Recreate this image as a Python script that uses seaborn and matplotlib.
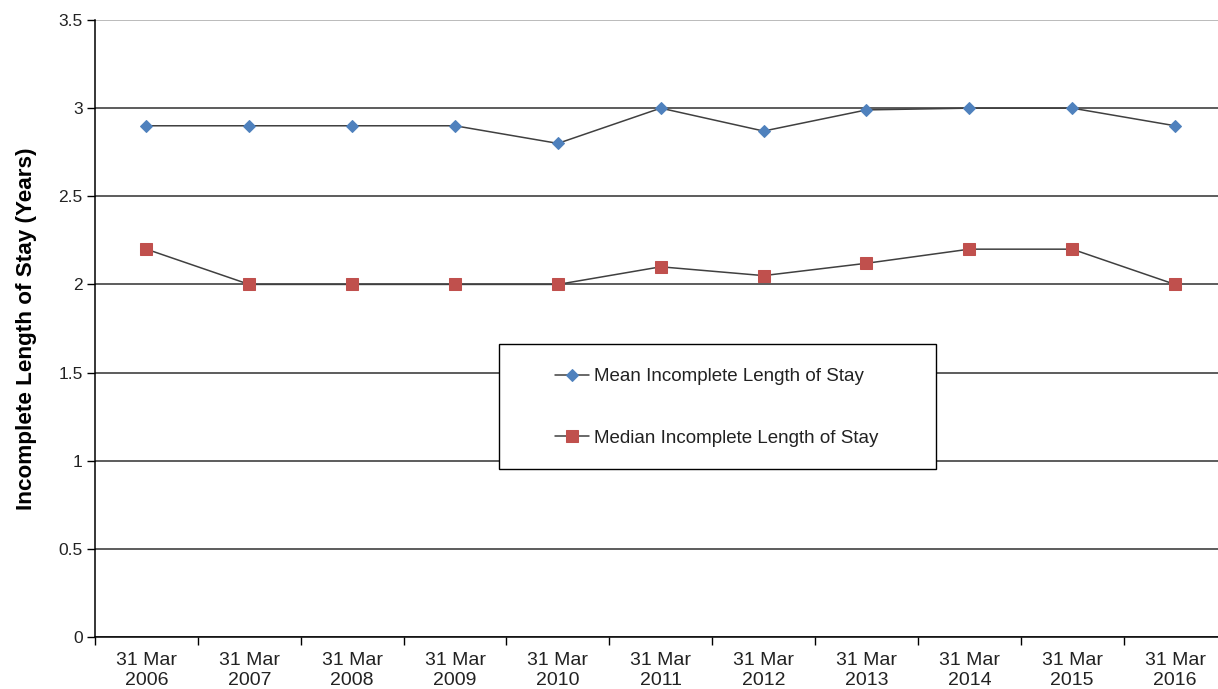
import matplotlib
matplotlib.use("Agg")
import matplotlib.pyplot as plt
import seaborn as sns
import pandas as pd
import numpy as np
from matplotlib.patches import Rectangle
from matplotlib.ticker import FixedLocator, FixedFormatter, NullFormatter

years = ["2006", "2007", "2008", "2009", "2010", "2011", "2012", "2013", "2014", "2015", "2016"]
categories = ["31 Mar\n" + y for y in years]
mean_stay = [2.9, 2.9, 2.9, 2.9, 2.8, 3.0, 2.87, 2.99, 3.0, 3.0, 2.9]
median_stay = [2.2, 2.0, 2.0, 2.0, 2.0, 2.1, 2.05, 2.12, 2.2, 2.2, 2.0]
y_ticks = [0, 0.5, 1, 1.5, 2, 2.5, 3, 3.5]
y_tick_labels = ["0", "0.5", "1", "1.5", "2", "2.5", "3", "3.5"]
mean_label = "Mean Incomplete Length of Stay"
median_label = "Median Incomplete Length of Stay"
y_label = "Incomplete Length of Stay (Years)"

sns.set_theme(style="white")
plt.rcParams['font.family'] = ['Liberation Sans', 'DejaVu Sans']

W, H = 1218, 689
fig = plt.figure(figsize=(W / 100, H / 100), dpi=100)
left, right, top, bottom = 95, 1226.5, 20, 637
ax = fig.add_axes([left / W, 1 - bottom / H, (right - left) / W, (bottom - top) / H])

df = pd.DataFrame({"cat": categories, "mean": mean_stay, "median": median_stay})

sns.lineplot(data=df, x="cat", y="mean", ax=ax, color="#404040", linewidth=1.1,
             marker="D", markersize=6, markerfacecolor="#4F81BD", markeredgecolor="#4F81BD",
             label=mean_label, sort=False, zorder=3)
sns.lineplot(data=df, x="cat", y="median", ax=ax, color="#404040", linewidth=1.1,
             marker="s", markersize=9, markerfacecolor="#C0504D", markeredgecolor="#C0504D",
             label=median_label, sort=False, zorder=3)

ax.set_xlim(-0.5, len(categories) - 0.5)
ax.set_ylim(0, 3.5)
ax.yaxis.set_major_locator(FixedLocator(y_ticks))
ax.yaxis.set_major_formatter(FixedFormatter(y_tick_labels))
ax.xaxis.set_minor_locator(FixedLocator(np.arange(-0.5, len(categories), 1.0)))
ax.xaxis.set_minor_formatter(NullFormatter())
ax.tick_params(axis="x", which="major", length=0, labelsize=14, pad=11, colors="#222222")
ax.tick_params(axis="x", which="minor", length=6, width=1, color="black", direction="out", bottom=True)
ax.tick_params(axis="y", which="major", length=6, width=1, color="black", direction="out", left=True,
               labelsize=12.5, pad=3, labelcolor="#222222")
for lbl in ax.get_xticklabels():
    lbl.set_linespacing(1.18)

ax.grid(axis="y", color="#303030", linewidth=1.1)
ax.grid(axis="x", visible=False)
ax.yaxis.get_gridlines()[-1].set_color("#a8a8a8")
ax.set_axisbelow(True)
for s in ["top", "right"]:
    ax.spines[s].set_visible(False)
for s in ["left", "bottom"]:
    ax.spines[s].set_color("black")
    ax.spines[s].set_linewidth(1.1)

ax.set_xlabel("")
ax.set_ylabel(y_label, fontsize=16.2, fontweight="bold", labelpad=15, color="black")

# legend box
bx0, by0, bx1, by1 = 499, 344, 936, 469
rect = Rectangle((bx0 / W, 1 - by1 / H), (bx1 - bx0) / W, (by1 - by0) / H,
                 transform=fig.transFigure, facecolor="white", edgecolor="black",
                 linewidth=1.0, zorder=5, clip_on=False)
ax.add_patch(rect)
leg = ax.legend(loc="center", bbox_to_anchor=(((bx0 + bx1) / 2 - 1) / W, 1 - ((by0 + by1) / 2 + 1) / H),
                bbox_transform=fig.transFigure, frameon=False, fontsize=13.5,
                labelspacing=2.35, handlelength=1.8, handletextpad=0.25)
leg.set_zorder(6)
for t in leg.get_texts():
    t.set_color("#222222")

fig.savefig("out.png", dpi=100)
